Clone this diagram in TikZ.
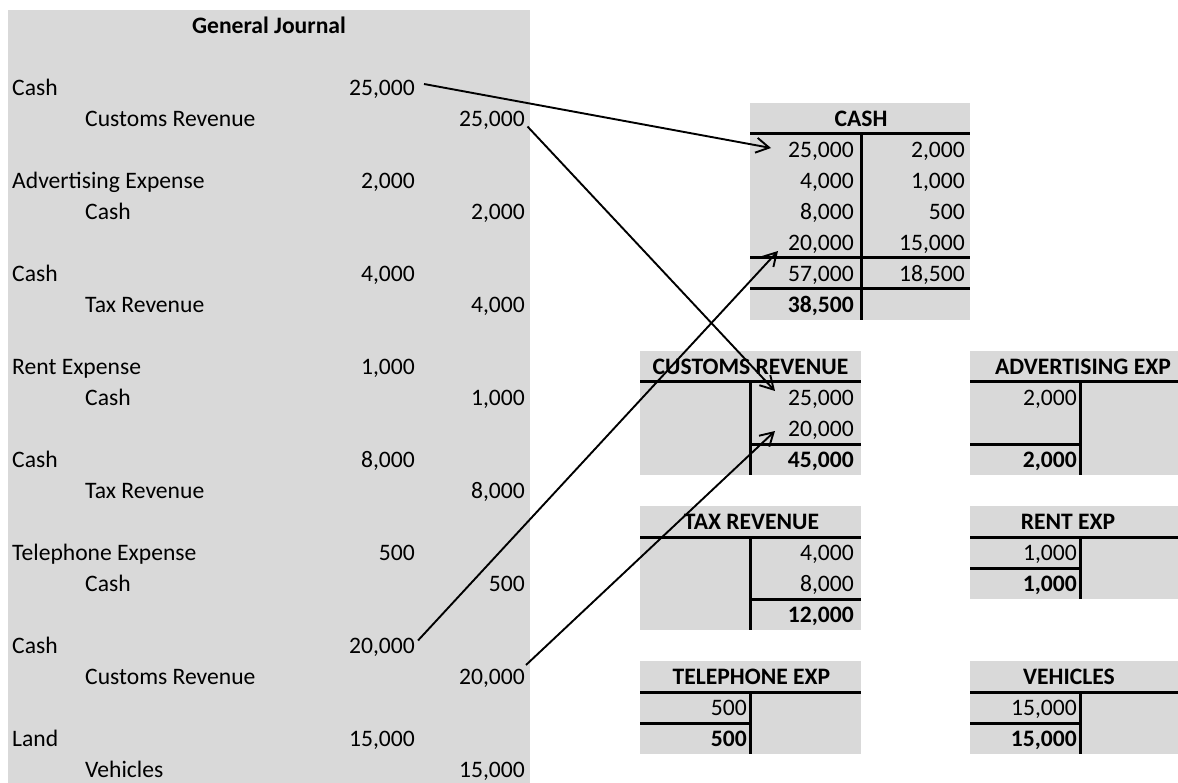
\documentclass[tikz,border=0pt]{standalone}
\usepackage{fontspec}
\setmainfont{Carlito}
\usetikzlibrary{arrows.meta}
\definecolor{cellgrey}{HTML}{D9D9D9}
\tikzset{
 txt/.style={inner sep=0pt, font=\fontsize{23.6}{28}\selectfont},
 num/.style={txt, anchor=base east},
 lab/.style={txt, anchor=base west},
 hdr/.style={inner sep=0pt, anchor=base, font=\fontsize{23.6}{28}\selectfont\bfseries},
 tot/.style={inner sep=0pt, anchor=base east, font=\fontsize{23.6}{28}\selectfont\bfseries},
 tline/.style={line width=3pt},
 arr/.style={line width=1.9pt, -{Straight Barb[length=13pt,width=15pt]}},
}
\begin{document}
\begin{tikzpicture}[x=1pt,y=-1pt]
\useasboundingbox (0,0) rectangle (1178,783);
% ---------------- General Journal ----------------
\fill[cellgrey] (8,10) rectangle (530,783);
\node[hdr] (title) at (269,33.5) {General Journal};
\node[lab] (jl1)  at (12,95.5)  {Cash};              \node[num] (jd1)  at (415,95.5)  {25,000};
\node[lab] (jl2)  at (85,126.5) {Customs Revenue};   \node[num] (jc2)  at (525,126.5) {25,000};
\node[lab] (jl3)  at (12,188.5) {Advertising Expense};\node[num] (jd3) at (415,188.5) {2,000};
\node[lab] (jl4)  at (85,219.5) {Cash};              \node[num] (jc4)  at (525,219.5) {2,000};
\node[lab] (jl5)  at (12,281.5) {Cash};              \node[num] (jd5)  at (415,281.5) {4,000};
\node[lab] (jl6)  at (85,312.5) {Tax Revenue};       \node[num] (jc6)  at (525,312.5) {4,000};
\node[lab] (jl7)  at (12,374.5) {Rent Expense};      \node[num] (jd7)  at (415,374.5) {1,000};
\node[lab] (jl8)  at (85,405.5) {Cash};              \node[num] (jc8)  at (525,405.5) {1,000};
\node[lab] (jl9)  at (12,467.5) {Cash};              \node[num] (jd9)  at (415,467.5) {8,000};
\node[lab] (jl10) at (85,498.5) {Tax Revenue};       \node[num] (jc10) at (525,498.5) {8,000};
\node[lab] (jl11) at (12,560.5) {Telephone Expense}; \node[num] (jd11) at (415,560.5) {500};
\node[lab] (jl12) at (85,591.5) {Cash};              \node[num] (jc12) at (525,591.5) {500};
\node[lab] (jl13) at (12,653.5) {Cash};              \node[num] (jd13) at (415,653.5) {20,000};
\node[lab] (jl14) at (85,684.5) {Customs Revenue};   \node[num] (jc14) at (525,684.5) {20,000};
\node[lab] (jl15) at (12,746.5) {Land};              \node[num] (jd15) at (415,746.5) {15,000};
\node[lab] (jl16) at (85,777.5) {Vehicles};          \node[num] (jc16) at (525,777.5) {15,000};
% ---------------- CASH ----------------
\fill[cellgrey] (750,103) rectangle (970,320);
\node[hdr] (cashH) at (861,126.5) {CASH};
\draw[tline] (750,134) -- (970,134);
\draw[tline] (861,134) -- (861,320);
\draw[tline] (750,258) -- (970,258);
\draw[tline] (750,289) -- (970,289);
\node[num] (cd1) at (854,157.5) {25,000}; \node[num] (cc1) at (965,157.5) {2,000};
\node[num] (cd2) at (854,188.5) {4,000};  \node[num] (cc2) at (965,188.5) {1,000};
\node[num] (cd3) at (854,219.5) {8,000};  \node[num] (cc3) at (965,219.5) {500};
\node[num] (cd4) at (854,250.5) {20,000}; \node[num] (cc4) at (965,250.5) {15,000};
\node[num] (cdt) at (854,281.5) {57,000}; \node[num] (cct) at (965,281.5) {18,500};
\node[tot] (cbal) at (854,312.5) {38,500};
% ---------------- CUSTOMS REVENUE ----------------
\fill[cellgrey] (640,351) rectangle (861,475);
\node[hdr] (cusH) at (750.5,374.5) {CUSTOMS REVENUE};
\draw[tline] (640,382) -- (861,382);
\draw[tline] (750,382) -- (750,475);
\draw[tline] (750,444) -- (861,444);
\node[num] (cu1) at (854,405.5) {25,000};
\node[num] (cu2) at (854,436.5) {20,000};
\node[tot] (cut) at (854,467.5) {45,000};
% ---------------- TAX REVENUE ----------------
\fill[cellgrey] (640,506) rectangle (861,630);
\node[hdr] (taxH) at (751.5,529.5) {TAX REVENUE};
\draw[tline] (640,537) -- (861,537);
\draw[tline] (750,537) -- (750,630);
\draw[tline] (750,599) -- (861,599);
\node[num] (tx1) at (854,560.5) {4,000};
\node[num] (tx2) at (854,591.5) {8,000};
\node[tot] (txtot) at (854,622.5) {12,000};
% ---------------- TELEPHONE EXP ----------------
\fill[cellgrey] (640,661) rectangle (861,754);
\node[hdr] (telH) at (751.5,684.5) {TELEPHONE EXP};
\draw[tline] (640,692) -- (861,692);
\draw[tline] (750,692) -- (750,754);
\draw[tline] (640,723) -- (750,723);
\node[num] (te1) at (747,715.5) {500};
\node[tot] (tet) at (747,746.5) {500};
% ---------------- ADVERTISING EXP ----------------
\fill[cellgrey] (970,351) rectangle (1178,475);
\node[hdr] (advH) at (1083,374.5) {ADVERTISING EXP};
\draw[tline] (970,382) -- (1178,382);
\draw[tline] (1080,382) -- (1080,475);
\draw[tline] (970,444) -- (1080,444);
\node[num] (ad1) at (1077,405.5) {2,000};
\node[tot] (adt) at (1077,467.5) {2,000};
% ---------------- RENT EXP ----------------
\fill[cellgrey] (970,506) rectangle (1178,599);
\node[hdr] (renH) at (1068,529.5) {RENT EXP};
\draw[tline] (970,537) -- (1178,537);
\draw[tline] (1080,537) -- (1080,599);
\draw[tline] (970,568) -- (1080,568);
\node[num] (re1) at (1077,560.5) {1,000};
\node[tot] (ret) at (1077,591.5) {1,000};
% ---------------- VEHICLES ----------------
\fill[cellgrey] (970,661) rectangle (1178,754);
\node[hdr] (vehH) at (1069,684.5) {VEHICLES};
\draw[tline] (970,692) -- (1178,692);
\draw[tline] (1080,692) -- (1080,754);
\draw[tline] (970,723) -- (1080,723);
\node[num] (ve1) at (1077,715.5) {15,000};
\node[tot] (vet) at (1077,746.5) {15,000};
% ---------------- arrows ----------------
\coordinate (t1) at (771,148);
\coordinate (t2) at (775,391);
\coordinate (t3) at (778,251);
\coordinate (t4) at (775,431);
\draw[arr] ([shift={(9,-11.5)}]jd1.base east) -- (t1);
\draw[arr] ([shift={(2.5,0)}]jc2.base east) -- (t2);
\draw[arr] ([shift={(3,-13)}]jd13.base east) -- (t3);
\draw[arr] ([shift={(1,-19.5)}]jc14.base east) -- (t4);
\end{tikzpicture}
\end{document}
